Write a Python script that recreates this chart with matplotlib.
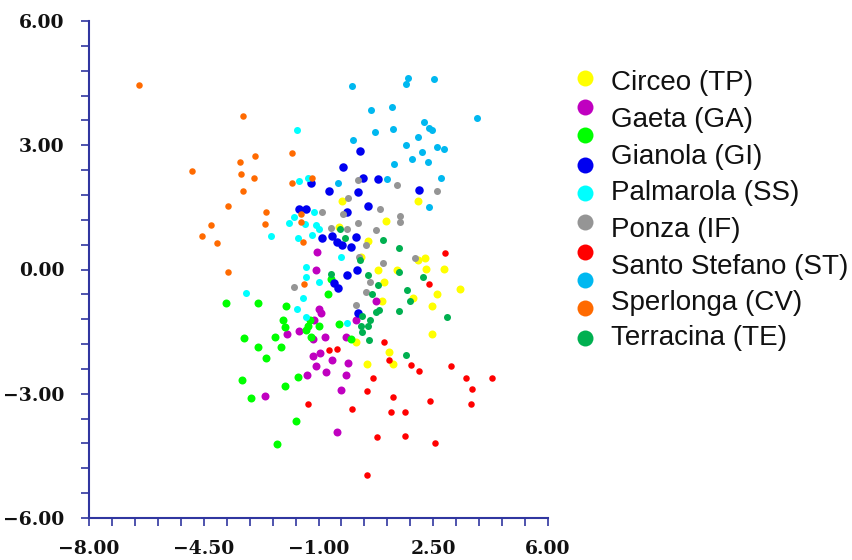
import numpy as np
import matplotlib.pyplot as plt
from matplotlib.ticker import FixedLocator, FuncFormatter
from matplotlib.lines import Line2D

# legend texts (the legend shows 8 names for 10 marker colours)
labels = ['Circeo (TP)', 'Gaeta (GA)', 'Gianola (GI)', 'Palmarola (SS)',
          'Ponza (IF)', 'Santo Stefano (ST)', 'Sperlonga (CV)', 'Terracina (TE)']

xticks = [-8.0, -4.5, -1.0, 2.5, 6.0]
yticks = [-6.0, -3.0, 0.0, 3.0, 6.0]

yellow_pts = [(-0.28, 1.66), (2.04, 1.66), (1.07, 1.18), (-0.38, 1.02), (0.52, 0.70),
              (0.31, 0.30), (0.82, 0.0), (1.38, 0.0), (2.04, 0.23), (2.26, 0.27),
              (2.29, 0.02), (2.82, 0.02), (1.0, -0.31), (1.88, -0.68), (2.62, -0.60),
              (3.32, -0.48), (2.47, -0.87), (0.94, -0.75), (2.46, -1.55), (0.13, -1.74),
              (1.15, -1.98), (1.27, -2.28), (0.48, -2.28)]

magenta_pts = [(-1.04, 0.43), (-1.07, 0.0), (0.74, -0.75), (-0.99, -0.96), (-0.91, -1.04),
               (-1.15, -1.23), (0.13, -1.23), (-1.95, -1.55), (-1.60, -1.48), (-1.17, -1.69),
               (-0.80, -1.62), (-0.16, -1.62), (-1.17, -2.10), (-0.94, -2.01), (-0.58, -2.18),
               (-1.07, -2.34), (-0.78, -2.47), (-1.34, -2.54), (-0.09, -2.26), (-0.17, -2.54),
               (-0.32, -2.90), (-2.63, -3.06), (-0.45, -3.93)]

lime_pts = [(-0.63, -0.22), (-0.70, -0.60), (-3.81, -0.81), (-2.85, -0.81), (-1.98, -0.89),
            (-2.08, -1.22), (-2.02, -1.39), (-1.25, -1.22), (-1.31, -1.36), (-0.99, -1.36),
            (-0.38, -1.31), (-1.39, -1.46), (-1.24, -1.63), (-3.28, -1.65), (-2.33, -1.62),
            (-2.86, -1.88), (-2.13, -1.88), (-2.60, -2.13), (-3.34, -2.67), (-1.64, -2.60),
            (-2.02, -2.81), (-3.06, -3.11), (-1.70, -3.67), (-2.28, -4.22), (0.0, -1.69)]

blue_pts = [(0.27, 2.85), (-0.25, 2.48), (0.35, 2.22), (0.80, 2.19), (-1.23, 2.10),
            (-0.68, 1.89), (0.21, 1.86), (2.06, 1.92), (0.52, 1.54), (-0.12, 1.39),
            (-1.60, 1.46), (-1.37, 1.46), (-0.88, 0.76), (-0.58, 0.80), (0.13, 0.78),
            (-0.43, 0.66), (-0.28, 0.58), (-0.02, 0.55), (-0.13, -0.13), (0.17, 0.0),
            (-0.53, -0.33), (-0.42, -0.44), (0.21, -1.04)]

cyan_pts = [(-1.65, 3.38), (-1.60, 2.13), (-1.31, 2.22), (-1.15, 1.38), (-1.75, 1.26),
            (-1.90, 1.13), (-1.41, 1.10), (-1.09, 1.08), (-0.99, 0.97), (-1.21, 0.83),
            (-1.62, 0.75), (-0.32, 0.31), (-1.39, 0.07), (-1.39, -0.17), (-0.99, -0.30),
            (-3.22, -0.57), (-1.48, -0.68), (-1.65, -0.95), (-1.39, -1.15), (-0.12, -1.28),
            (-2.44, 0.80)]

gray_pts = [(0.21, 2.16), (1.39, 2.05), (2.62, 1.90), (-0.09, 1.73), (-0.89, 1.40),
            (-0.26, 1.34), (0.87, 1.46), (1.48, 1.28), (1.48, 1.15), (0.19, 1.12),
            (-0.62, 1.00), (-0.12, 0.98), (0.74, 0.96), (0.46, 0.60), (0.23, 0.30),
            (0.98, 0.15), (1.93, 0.27), (0.56, -0.29), (0.46, -0.55), (0.15, -0.85),
            (-1.75, -0.43)]

red_pts = [(2.87, 0.39), (2.37, -0.35), (-0.67, -1.95), (-0.45, -1.91), (-1.32, -3.24),
           (1.0, -1.76), (1.15, -2.19), (1.83, -2.30), (2.08, -2.46), (3.03, -2.34),
           (0.67, -2.63), (3.51, -2.62), (4.29, -2.61), (3.69, -2.88), (0.48, -2.93),
           (1.28, -3.08), (2.40, -3.17), (3.65, -3.24), (0.02, -3.37), (1.20, -3.43),
           (1.63, -3.43), (0.77, -4.04), (1.64, -4.01), (2.55, -4.20), (0.48, -4.97)]

sky_pts = [(0.02, 4.44), (1.72, 4.62), (1.66, 4.47), (2.51, 4.61), (0.59, 3.84),
           (1.24, 3.93), (3.84, 3.67), (2.22, 3.55), (2.38, 3.41), (2.47, 3.37),
           (0.71, 3.33), (1.26, 3.40), (2.04, 3.20), (0.05, 3.13), (1.68, 3.01),
           (2.62, 2.96), (2.84, 2.92), (2.16, 2.84), (1.86, 2.67), (2.35, 2.60),
           (1.31, 2.55), (2.74, 2.20), (2.36, 1.52), (1.09, 2.19), (-0.42, 2.08)]

orange_pts = [(-6.47, 4.45), (-3.31, 3.71), (-2.94, 2.75), (-3.39, 2.59), (-1.80, 2.82),
              (-4.86, 2.39), (-3.36, 2.30), (-2.97, 2.22), (-1.82, 2.09), (-3.31, 1.89),
              (-3.76, 1.54), (-2.60, 1.38), (-4.29, 1.08), (-2.64, 1.10), (-4.54, 0.80),
              (-4.11, 0.63), (-3.77, -0.05), (-1.47, 0.66), (-1.45, -0.34), (-1.19, 2.22),
              (-1.53, 1.34), (-1.53, 1.15)]

green_pts = [(-0.33, 0.98), (-0.18, 0.76), (0.96, 0.72), (1.45, 0.52), (0.26, 0.22),
             (-0.63, -0.10), (0.52, -0.14), (0.81, -0.37), (1.47, -0.05), (2.19, -0.18),
             (1.71, -0.49), (1.79, -0.76), (0.62, -0.60), (0.84, -0.98), (0.74, -1.02),
             (1.45, -1.01), (0.33, -1.12), (0.56, -1.23), (2.91, -1.15), (0.29, -1.36),
             (0.52, -1.36), (0.33, -1.52), (0.54, -1.70), (1.67, -2.06)]

# draw order, colour and dot diameter (px)
series = [
    (yellow_pts, '#FFFF00', 8.0),
    (magenta_pts, '#C000C0', 8.0),
    (lime_pts, '#00FF00', 8.0),
    (blue_pts, '#0000F0', 8.5),
    (cyan_pts, '#00FFFF', 7.0),
    (gray_pts, '#959595', 7.0),
    (red_pts, '#FF0000', 6.5),
    (sky_pts, '#00B8F0', 7.0),
    (orange_pts, '#FF6A00', 6.5),
    (green_pts, '#00B050', 7.0),
]

W, H = 852, 560
fig = plt.figure(figsize=(W / 100, H / 100), dpi=100)
ax = fig.add_axes([89 / W, 1 - 518 / H, (548 - 89) / W, (518 - 21) / H])

for pts, col, d in series:
    arr = np.array(pts)
    ax.scatter(arr[:, 0], arr[:, 1], s=(d * 0.72) ** 2, c=col, linewidths=0, zorder=3)

axis_col = '#3036A0'
ax.set_xlim(xticks[0], xticks[-1])
ax.set_ylim(yticks[0], yticks[-1])
for s in ['top', 'right']:
    ax.spines[s].set_visible(False)
for s in ['left', 'bottom']:
    ax.spines[s].set_color(axis_col)
    ax.spines[s].set_linewidth(1.5)

ax.xaxis.set_major_locator(FixedLocator(xticks))
ax.yaxis.set_major_locator(FixedLocator(yticks))
ax.xaxis.set_minor_locator(FixedLocator(np.linspace(xticks[0], xticks[-1], 21)))
ax.yaxis.set_minor_locator(FixedLocator(np.linspace(yticks[0], yticks[-1], 21)))
fmt = FuncFormatter(lambda v, _: f'{v:.2f}'.replace('-', '\u2212'))
ax.xaxis.set_major_formatter(fmt)
ax.yaxis.set_major_formatter(fmt)
ax.tick_params(which='both', direction='out', length=5.5, width=1.2, color=axis_col)
ax.tick_params(axis='y', which='major', pad=12)
ax.tick_params(axis='x', which='major', pad=10)
for lab in ax.get_xticklabels() + ax.get_yticklabels():
    lab.set_fontfamily('DejaVu Serif')
    lab.set_fontweight('bold')
    lab.set_fontsize(13.5)
    lab.set_color('#111111')

# legend: marker column and text column are spaced differently, as in the source
marker_y = [78, 107, 135, 165, 193, 222, 252, 280, 308, 338]
text_y = [83, 120, 157, 193, 230, 267, 303, 338]
for (pts, col, d), py in zip(series, marker_y):
    fig.add_artist(Line2D([585 / W], [1 - py / H], marker='o', markersize=11.5,
                          color=col, markeredgewidth=0, transform=fig.transFigure))
for lab, py in zip(labels, text_y):
    fig.text(611 / W, 1 - py / H, lab, fontsize=20, family='Liberation Sans',
             ha='left', va='center', color='#111111')

fig.savefig('out.png', dpi=100)
